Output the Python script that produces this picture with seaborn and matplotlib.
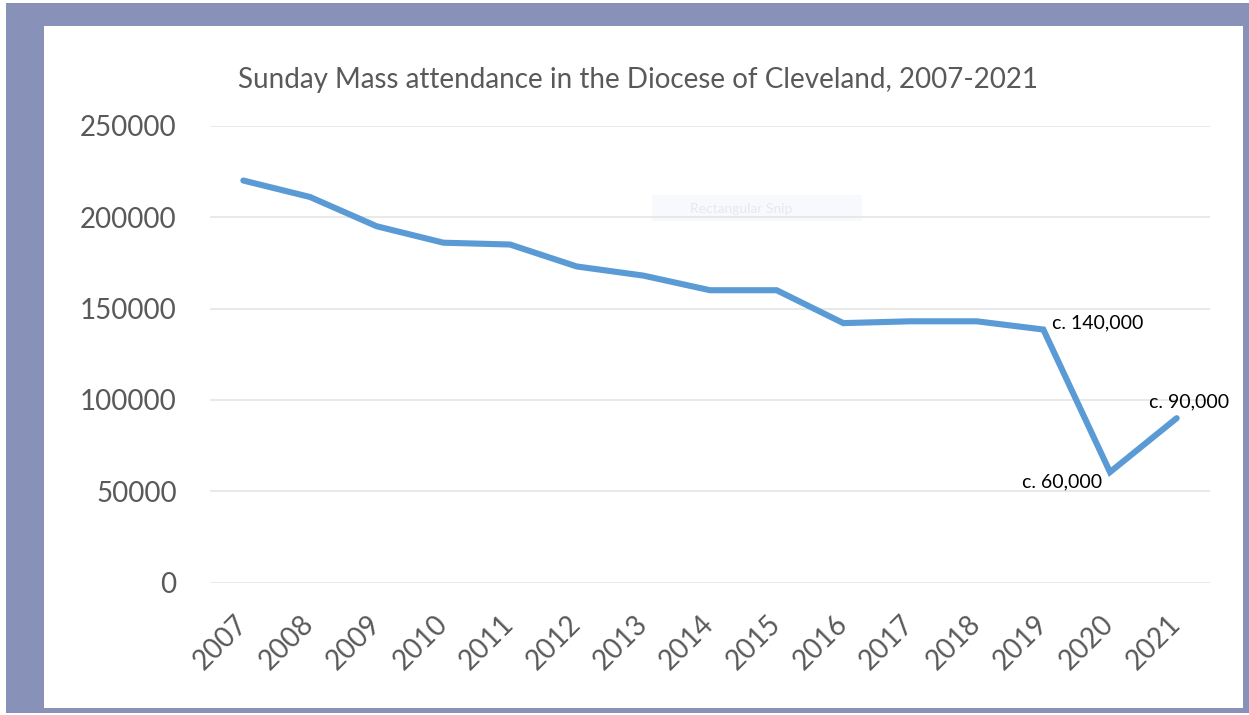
import matplotlib
matplotlib.use("Agg")
import matplotlib.pyplot as plt
import seaborn as sns
import pandas as pd
from matplotlib.patches import Rectangle

years = ["2007", "2008", "2009", "2010", "2011", "2012", "2013", "2014",
         "2015", "2016", "2017", "2018", "2019", "2020", "2021"]
attendance = [220000, 211000, 195000, 186000, 185000, 173000, 168000, 160000,
              160000, 142000, 143000, 143000, 138500, 60500, 90000]
y_ticks = [0, 50000, 100000, 150000, 200000, 250000]
annotations = {"2019": "c. 140,000", "2020": "c. 60,000", "2021": "c. 90,000"}
title = "Sunday Mass attendance in the Diocese of Cleveland, 2007-2021"

df = pd.DataFrame({"year": years, "attendance": attendance})

sns.set_theme(style="white")
plt.rcParams["font.family"] = ["Lato", "DejaVu Sans"]

W, H, DPI = 1249, 715, 100
fig = plt.figure(figsize=(W / DPI, H / DPI), dpi=DPI)
fig.patch.set_facecolor("white")

def px_rect(x0, y0, x1, y1, color, z):
    fig.patches.append(Rectangle((x0 / W, 1 - y1 / H), (x1 - x0) / W, (y1 - y0) / H,
                                 transform=fig.transFigure, facecolor=color,
                                 edgecolor="none", zorder=z))

px_rect(6, 3, 1249, 713, "#8892b8", -10)
px_rect(44, 26, 1243, 708, "white", -9)

ax = fig.add_axes([210 / W, 1 - 582.7 / H, 1000 / W, 457 / H])
ax.set_facecolor("none")
sns.lineplot(data=df, x="year", y="attendance", ax=ax, color="#5b9bd5",
             linewidth=4.4, solid_joinstyle="miter", sort=False)

ax.set_ylim(0, 250000)
ax.set_xlim(-0.5, len(years) - 0.5)
ax.set_yticks(y_ticks)
ax.set_yticklabels([str(v) for v in y_ticks], fontsize=20, color="#595959")
ax.set_xticks(range(len(years)))
ax.set_xticklabels(years, fontsize=20, color="#595959", rotation=45,
                   ha="right", va="center", rotation_mode="anchor")
ax.tick_params(axis="x", pad=27, length=0)
ax.tick_params(axis="y", pad=24, length=0)
ax.yaxis.grid(True, color="#e3e3e3", linewidth=1.1)
ax.set_axisbelow(True)
for s in ax.spines.values():
    s.set_visible(False)
ax.set_xlabel("")
ax.set_ylabel("")

idx = {y: i for i, y in enumerate(years)}
ax.annotate(annotations["2019"], (idx["2019"], attendance[idx["2019"]]),
            xytext=(6, 5), textcoords="offset points", ha="left", va="center",
            fontsize=14, color="black")
ax.annotate(annotations["2020"], (idx["2020"], attendance[idx["2020"]]),
            xytext=(-6, -7), textcoords="offset points", ha="right", va="center",
            fontsize=14, color="black")
ax.annotate(annotations["2021"], (idx["2021"], attendance[idx["2021"]]),
            xytext=(-20, 12), textcoords="offset points", ha="left", va="center",
            fontsize=14, color="black")

fig.text(638 / W, 1 - 80 / H, title, ha="center", va="center", fontsize=20,
         color="#595959")

# faint screenshot-tool overlay
px_rect(652, 195, 862, 221, "#f7f9fc", -8)
fig.text(690 / W, 1 - 209 / H, "Rectangular Snip", ha="left", va="center",
         fontsize=10, color="#e6e9ee")

fig.savefig("out.png", dpi=DPI)
